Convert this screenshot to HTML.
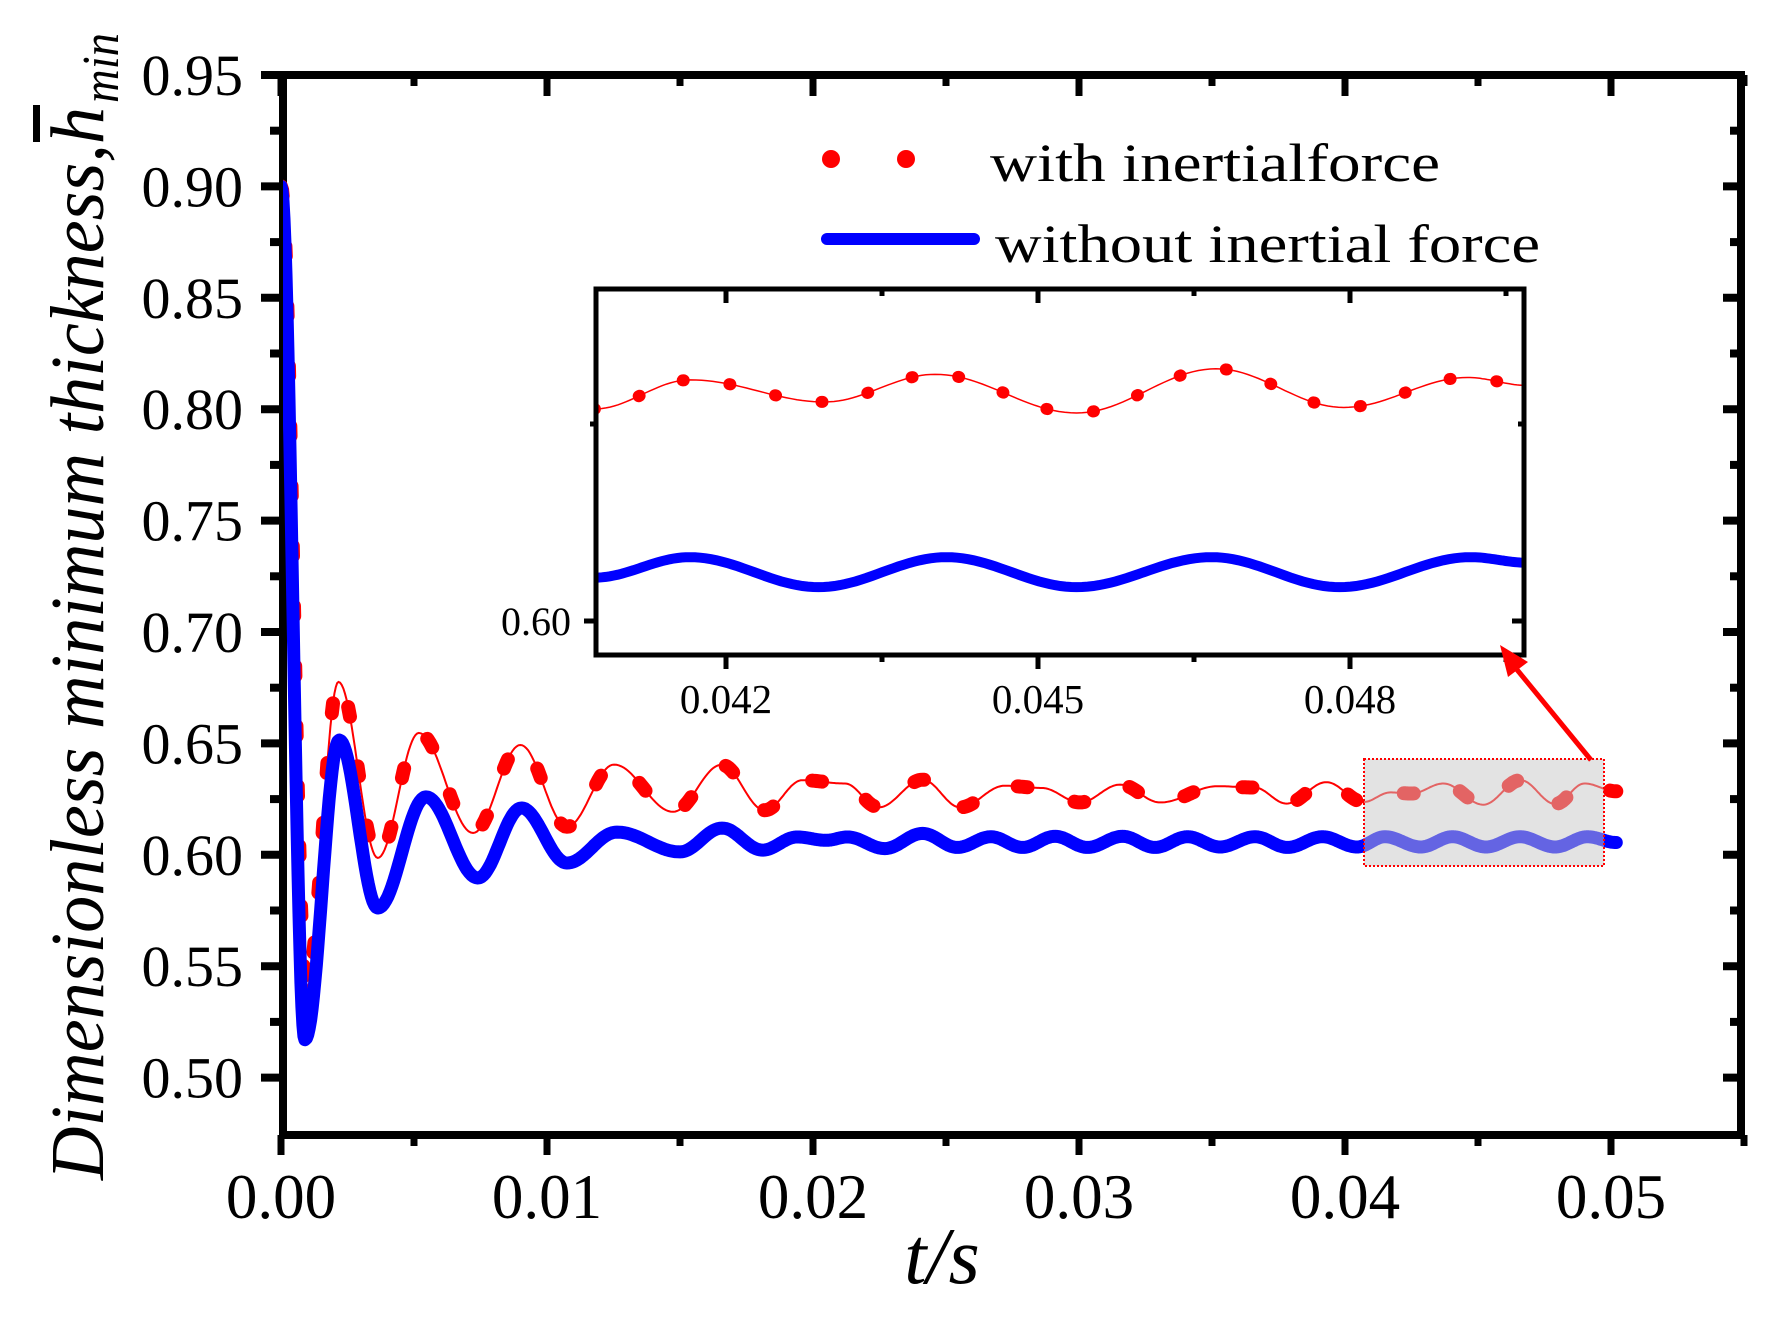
<!DOCTYPE html>
<html><head><meta charset="utf-8"><style>
html,body{margin:0;padding:0;background:#fff;}
svg{display:block;font-family:"Liberation Serif",serif;}
</style></head>
<body>
<svg id="chart" width="1786" height="1317" viewBox="0 0 1786 1317" xmlns="http://www.w3.org/2000/svg">
<defs>
<clipPath id="mainClip"><rect x="283" y="75" width="1458" height="1060"/></clipPath>
<clipPath id="insetClip"><rect x="596" y="289" width="928" height="366"/></clipPath>
</defs>
<g id="axes"></g>
<g id="series" clip-path="url(#mainClip)"></g>
<rect x="1364" y="759" width="240" height="107" fill="rgba(200,200,200,0.5)" stroke="#f00" stroke-width="2" stroke-dasharray="2 2"/>
<g id="inset"></g>
<g>
<line x1="1591" y1="760" x2="1514" y2="666" stroke="#f00" stroke-width="5"/>
<polygon points="1500,645 1528,662 1508,677" fill="#f00"/>
</g>
<g>
<g>
<circle cx="831" cy="159" r="9" fill="#f00"/><circle cx="906" cy="159" r="9" fill="#f00"/>
<text x="990" y="181" font-size="54" textLength="450" lengthAdjust="spacingAndGlyphs">with inertialforce</text>
</g>
<g>
<line x1="827" y1="239" x2="974" y2="239" stroke="#00f" stroke-width="12" stroke-linecap="round"/>
<text x="995" y="262" font-size="54" textLength="545" lengthAdjust="spacingAndGlyphs">without inertial force</text>
</g>
</g>
<g>
<text transform="translate(103,1180) rotate(-90)" font-size="76" font-style="italic" textLength="1073" lengthAdjust="spacingAndGlyphs">Dimensionless minimum thickness,h</text>
<text transform="translate(118,103) rotate(-90)" font-size="52" font-style="italic" textLength="70" lengthAdjust="spacingAndGlyphs">min</text>
<rect x="33" y="105" width="7" height="37" fill="#000"/>
</g>
<text x="942" y="1283" font-size="80" font-style="italic" text-anchor="middle">t/s</text>
</svg>
<script>
// main series: extrema (time, thickness)
const redT=[0,0.00095,0.00216,0.00364,0.00518,0.00722,0.0090,0.01075,0.01252,0.01474,0.01656,0.01818,0.0196,0.0212,0.02247,0.02412,0.02553,0.0272,0.0286,0.03004,0.03154,0.03305,0.0352,0.0366,0.0378,0.0393,0.0407,0.0417,0.0425,0.0437,0.0452,0.0466,0.0479,0.0490,0.0502];
const redH=[0.900,0.540,0.6776,0.5986,0.6547,0.6098,0.6493,0.6126,0.6405,0.6193,0.6404,0.6200,0.6335,0.6320,0.6213,0.6337,0.6213,0.6310,0.6300,0.6235,0.6315,0.6235,0.6308,0.6302,0.6230,0.6326,0.6237,0.6280,0.6275,0.6320,0.6225,0.6335,0.6228,0.6320,0.6285];
const blueT=[0,0.0009,0.00219,0.00364,0.00545,0.0074,0.00904,0.01075,0.01263,0.0150,0.01658,0.0181,0.0194,0.0205,0.0213,0.0227,0.02412,0.02543,0.02669,0.02788,0.0291,0.03032,0.03164,0.03286,0.03408,0.0353,0.03662,0.03784,0.03915,0.04045,0.0415,0.04285,0.04404,0.0453,0.04658,0.0479,0.04912,0.0502];
const blueH=[0.900,0.517,0.6515,0.5761,0.626,0.5896,0.621,0.5963,0.6102,0.6013,0.612,0.6021,0.608,0.6065,0.608,0.6028,0.6096,0.6033,0.6081,0.6033,0.6083,0.6033,0.6083,0.6033,0.6081,0.6035,0.6081,0.6033,0.6081,0.6035,0.6081,0.6035,0.6081,0.6035,0.6081,0.6035,0.6081,0.6055];
// inset series
const insRedT=[0.04073,0.04166,0.04295,0.04401,0.04537,0.04671,0.04794,0.04913,0.04970];
const insRedH=[0.6269,0.6306,0.6278,0.6313,0.6264,0.6320,0.6271,0.6309,0.6299];
const insBlueT=[0.04073,0.04165,0.04289,0.04412,0.04537,0.04667,0.04790,0.04916,0.04970];
const insBlueH=[0.6055,0.6081,0.6043,0.6081,0.6043,0.6081,0.6043,0.6081,0.6074];
// ticks
const xTicks=[0,0.01,0.02,0.03,0.04,0.05];
const xTickLabels=["0.00","0.01","0.02","0.03","0.04","0.05"];
const xMinor=[0.005,0.015,0.025,0.035,0.045,0.055];
const yTicks=[0.50,0.55,0.60,0.65,0.70,0.75,0.80,0.85,0.90,0.95];
const yTickLabels=["0.50","0.55","0.60","0.65","0.70","0.75","0.80","0.85","0.90","0.95"];
const yMinor=[0.525,0.575,0.625,0.675,0.725,0.775,0.825,0.875,0.925];
const insXTicks=[0.042,0.045,0.048];
const insXLabels=["0.042","0.045","0.048"];
const insXMinor=[0.0435,0.0465,0.0495];
const insYTicks=[0.60];
const insYLabels=["0.60"];
const insYMinor=[0.625];

const NS="http://www.w3.org/2000/svg";
const X=t=>281+t*26600;
const Y=h=>75+(0.95-h)*2228;
const IX=t=>726+(t-0.042)*104000;
const IY=h=>621-(h-0.6)*7880;
function mk(parent,tag,attrs){const e=document.createElementNS(NS,tag);for(const k in attrs)e.setAttribute(k,attrs[k]);parent.appendChild(e);return e;}
function pathD(T,H,fx,fy){
  let d="M"+fx(T[0]).toFixed(1)+","+fy(H[0]).toFixed(1);
  for(let i=0;i<T.length-1;i++){
    for(let s=1;s<=24;s++){
      const u=s/24,w=(1-Math.cos(Math.PI*u))/2;
      const t=T[i]+(T[i+1]-T[i])*u,h=H[i]+(H[i+1]-H[i])*w;
      d+=" L"+fx(t).toFixed(1)+","+fy(h).toFixed(1);
    }
  }
  return d;
}
const axes=document.getElementById('axes');
const series=document.getElementById('series');
const inset=document.getElementById('inset');

let el=mk(axes,'rect',{x:283,y:75,width:1458,height:1060,fill:'none',stroke:'#000','stroke-width':8});


xTicks.forEach((v,i)=>{
  let t=mk(axes,'line',{x1:X(v),x2:X(v),y1:1135,y2:1155,stroke:'#000','stroke-width':7});
  
  
  mk(axes,'line',{x1:X(v),x2:X(v),y1:75,y2:96,stroke:'#000','stroke-width':7});
  let l=mk(axes,'text',{x:X(v),y:1218,'font-size':63,'text-anchor':'middle'});
  l.textContent=xTickLabels[i];
  
  
});
xMinor.forEach(v=>{
  mk(axes,'line',{x1:X(v),x2:X(v),y1:1135,y2:1146,stroke:'#000','stroke-width':7});
  mk(axes,'line',{x1:X(v),x2:X(v),y1:75,y2:86,stroke:'#000','stroke-width':7});
});
yTicks.forEach((v,i)=>{
  let t=mk(axes,'line',{x1:261,x2:283,y1:Y(v),y2:Y(v),stroke:'#000','stroke-width':8});
  
  
  mk(axes,'line',{x1:1723,x2:1741,y1:Y(v),y2:Y(v),stroke:'#000','stroke-width':8});
  let l=mk(axes,'text',{x:243,y:Y(v)+20,'font-size':58,'text-anchor':'end'});
  l.textContent=yTickLabels[i];
  
  
});
yMinor.forEach(v=>{
  mk(axes,'line',{x1:270,x2:283,y1:Y(v),y2:Y(v),stroke:'#000','stroke-width':8});
  mk(axes,'line',{x1:1730,x2:1741,y1:Y(v),y2:Y(v),stroke:'#000','stroke-width':8});
});

const dR=pathD(redT,redH,X,Y);
let r1=mk(series,'path',{d:dR,fill:'none',stroke:'#f00','stroke-width':2});


let r2=mk(series,'path',{d:dR,fill:'none',stroke:'#f00','stroke-width':14,'stroke-linecap':'round','stroke-dasharray':'10 50'});


let b1=mk(series,'path',{d:pathD(blueT,blueH,X,Y),fill:'none',stroke:'#00f','stroke-width':13,'stroke-linejoin':'round','stroke-linecap':'round'});



let ib=mk(inset,'rect',{x:596,y:289,width:928,height:366,fill:'#fff'});


const ig=mk(inset,'g',{'clip-path':'url(#insetClip)'});
const dIR=pathD(insRedT,insRedH,IX,IY);
let ir1=mk(ig,'path',{d:dIR,fill:'none',stroke:'#f00','stroke-width':1.5});


let ir2=mk(ig,'path',{d:dIR,fill:'none',stroke:'#f00','stroke-width':12,'stroke-linecap':'round','stroke-dasharray':'1 46'});


let ib1=mk(ig,'path',{d:pathD(insBlueT,insBlueH,IX,IY),fill:'none',stroke:'#00f','stroke-width':10});


let ifr=mk(inset,'rect',{x:596,y:289,width:928,height:366,fill:'none',stroke:'#000','stroke-width':5});


insXTicks.forEach((v,i)=>{
  mk(inset,'line',{x1:IX(v),x2:IX(v),y1:655,y2:669,stroke:'#000','stroke-width':5});
  mk(inset,'line',{x1:IX(v),x2:IX(v),y1:289,y2:303,stroke:'#000','stroke-width':5});
  let l=mk(inset,'text',{x:IX(v),y:713,'font-size':41,'text-anchor':'middle'});
  l.textContent=insXLabels[i];
  
  
});
insXMinor.forEach(v=>{
  mk(inset,'line',{x1:IX(v),x2:IX(v),y1:655,y2:662,stroke:'#000','stroke-width':5});
  mk(inset,'line',{x1:IX(v),x2:IX(v),y1:289,y2:296,stroke:'#000','stroke-width':5});
});
insYTicks.forEach((v,i)=>{
  mk(inset,'line',{x1:584,x2:596,y1:IY(v),y2:IY(v),stroke:'#000','stroke-width':5});
  mk(inset,'line',{x1:1512,x2:1524,y1:IY(v),y2:IY(v),stroke:'#000','stroke-width':5});
  let l=mk(inset,'text',{x:571,y:IY(v)+14,'font-size':40,'text-anchor':'end'});
  l.textContent=insYLabels[i];
  
  
});
insYMinor.forEach(v=>{
  mk(inset,'line',{x1:590,x2:596,y1:IY(v),y2:IY(v),stroke:'#000','stroke-width':5});
  mk(inset,'line',{x1:1518,x2:1524,y1:IY(v),y2:IY(v),stroke:'#000','stroke-width':5});
});
</script>
</body></html>
